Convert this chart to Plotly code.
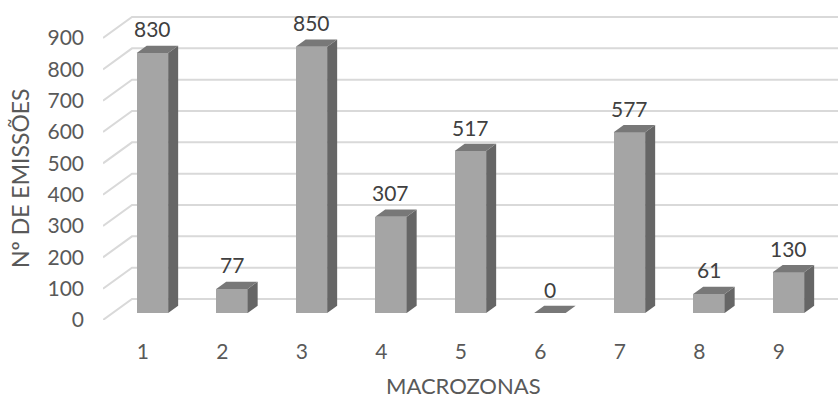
import plotly.graph_objects as go

# Emissions per macrozone
macrozonas = ["1", "2", "3", "4", "5", "6", "7", "8", "9"]
emissoes = [830, 77, 850, 307, 517, 0, 577, 61, 130]
y_ticks = [0, 100, 200, 300, 400, 500, 600, 700, 800, 900]

# Pixel geometry of the oblique (pseudo-3D) projection
W, H = 838, 400
M_L, M_B, M_T = 103, 80, 0
CAT_PX = 79.5           # pixels per category
VAL_PX = 0.3133         # pixels per emission unit
DEPTH_X_PX, DEPTH_Y_PX = 29, 21  # floor depth offset

DX = DEPTH_X_PX / CAT_PX          # depth offset in category units
DY = DEPTH_Y_PX / VAL_PX          # depth offset in value units
F0 = 1 / 3                        # bar front plane (fraction of depth)
DD = 10 / 29                      # bar depth (fraction of depth)
BAR_W = 0.396

x_range = [0.5, 0.5 + (W - M_L) / CAT_PX]
y_range = [0, (H - M_B - M_T) / VAL_PX]

GRID = "#d9d9d9"
FRONT = "#a5a5a5"
TOP = "#787878"
SIDE = "#666666"
TXT = "#595959"
LBL = "#404040"
FONT = "Lato"

xs = list(range(1, len(macrozonas) + 1))

fig = go.Figure()

# Gridlines below the bars: diagonal on the left wall edge + back-wall line
shapes = []
for v in y_ticks:
    path = (f"M {0.5} {v} L {0.5 + DX} {v + DY} L {x_range[1] + 1} {v + DY}")
    shapes.append(dict(type="path", path=path, xref="x", yref="y",
                       line=dict(color=GRID, width=2), layer="below"))

# Front faces of the bars
fig.add_trace(go.Bar(x=[c + F0 * DX for c in xs], y=emissoes,
                     base=[F0 * DY] * len(xs), width=BAR_W,
                     marker=dict(color=FRONT, line=dict(width=0)),
                     hoverinfo="skip", showlegend=False))

# Top and side faces
tx, ty, sx, sy = [], [], [], []
for c, v in zip(xs, emissoes):
    x0 = c - BAR_W / 2 + F0 * DX
    x1 = c + BAR_W / 2 + F0 * DX
    y0 = F0 * DY
    y1 = y0 + v
    ox, oy = DD * DX, DD * DY
    tx += [x0, x1, x1 + ox, x0 + ox, x0, None]
    ty += [y1, y1, y1 + oy, y1 + oy, y1, None]
    if v > 0:
        sx += [x1, x1 + ox, x1 + ox, x1, x1, None]
        sy += [y0, y0 + oy, y1 + oy, y1, y0, None]

fig.add_trace(go.Scatter(x=sx, y=sy, mode="lines", fill="toself",
                         fillcolor=SIDE, line=dict(width=0, color=SIDE),
                         hoverinfo="skip", showlegend=False))
fig.add_trace(go.Scatter(x=tx, y=ty, mode="lines", fill="toself",
                         fillcolor=TOP, line=dict(width=0, color=TOP),
                         hoverinfo="skip", showlegend=False))

# Value labels above each bar
for c, v in zip(xs, emissoes):
    fig.add_annotation(x=c + F0 * DX, y=F0 * DY + v, text=str(v),
                       showarrow=False, yshift=24,
                       xanchor="center", yanchor="middle",
                       font=dict(family=FONT, size=21, color=LBL))

# Axis titles
plot_h = H - M_B - M_T
fig.add_annotation(xref="paper", yref="paper",
                   x=(463 - M_L) / (W - M_L), y=-(385 - (H - M_B)) / plot_h,
                   xanchor="center", yanchor="middle",
                   text="MACROZONAS", showarrow=False,
                   font=dict(family=FONT, size=22, color=TXT))
fig.add_annotation(xref="paper", yref="paper",
                   x=(20 - M_L) / (W - M_L), y=((H - M_B) - 178) / plot_h,
                   xanchor="center", yanchor="middle",
                   text="Nº DE EMISSÕES", textangle=-90, showarrow=False,
                   font=dict(family=FONT, size=23, color=TXT))

fig.update_layout(
    width=W, height=H,
    margin=dict(l=M_L, r=0, t=M_T, b=M_B),
    paper_bgcolor="white", plot_bgcolor="white",
    font=dict(family=FONT, color=TXT),
    bargap=0,
    shapes=shapes,
    xaxis=dict(range=x_range, tickvals=xs, ticktext=macrozonas,
               showgrid=False, zeroline=False, showline=False,
               ticks="", ticklabelstandoff=17,
               tickfont=dict(family=FONT, size=21, color=TXT)),
    yaxis=dict(range=y_range, tickvals=y_ticks,
               showgrid=False, zeroline=False, showline=False,
               ticks="", ticklabelstandoff=18,
               tickfont=dict(family=FONT, size=21, color=TXT)),
)

fig.write_html("out.html")
